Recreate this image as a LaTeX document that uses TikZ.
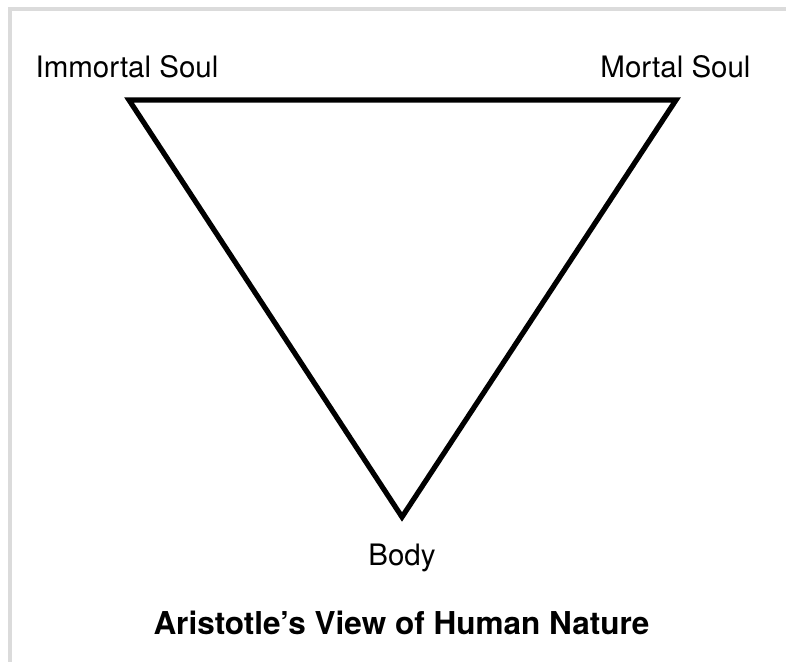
\documentclass[tikz,border=0pt]{standalone}
\usepackage{fontspec}
\setmainfont{TeX Gyre Heros}
\begin{document}
\begin{tikzpicture}[x=0.5pt,y=-0.5pt]
\useasboundingbox (0,0) rectangle (786,662);
\draw[line width=2pt,black!14] (9.5,700) -- (9.5,9.5) -- (800,9.5);
\coordinate (is) at (129,100);
\coordinate (ms) at (676,100);
\coordinate (bd) at (402,517);
\draw[line width=2.6pt] (is) -- (ms) -- (bd) -- cycle;
\node[font=\fontsize{14.75}{17}\selectfont,anchor=base] (isl) at (127,78) {Immortal Soul};
\node[font=\fontsize{14.75}{17}\selectfont,anchor=base] (msl) at (675.5,78) {Mortal Soul};
\node[font=\fontsize{14.75}{17}\selectfont,anchor=base] (bdl) at (402,565) {Body};
\node[font=\fontsize{15.75}{18}\selectfont\bfseries,anchor=base] (title) at (401.5,634) {Aristotle’s View of Human Nature};
\end{tikzpicture}
\end{document}
